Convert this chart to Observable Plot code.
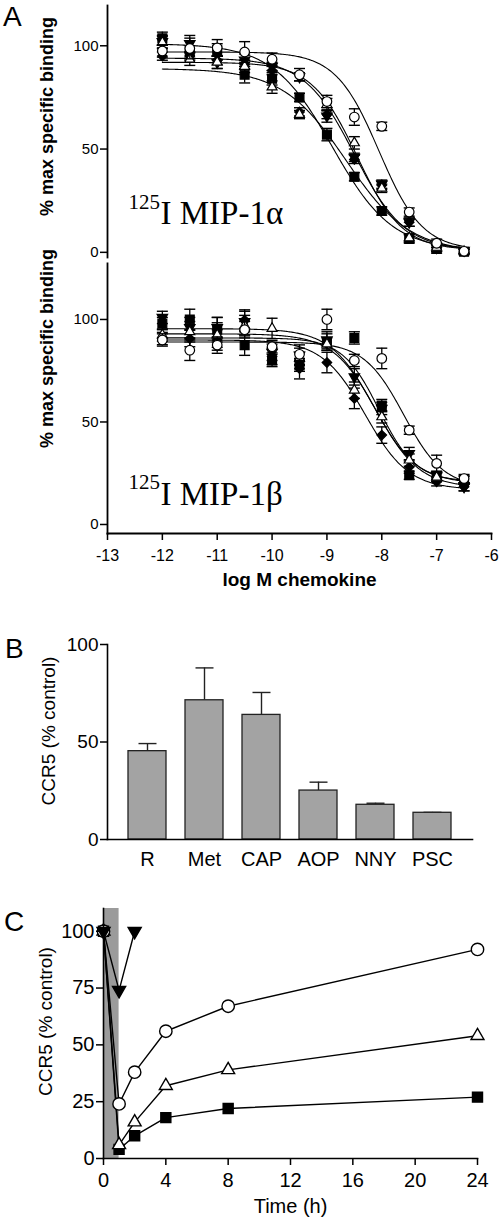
<!DOCTYPE html>
<html><head><meta charset="utf-8">
<script src="https://cdn.jsdelivr.net/npm/d3@7"></script>
<script src="https://cdn.jsdelivr.net/npm/@observablehq/plot@0.6"></script>
<style>
body{margin:0;background:#fff;}
#fig{position:relative;width:500px;height:1225px;font-family:"Liberation Sans",Arial,sans-serif;overflow:hidden;}
.panel{position:absolute;left:0;}
.letter{position:absolute;font-size:28px;line-height:1;color:#000;}
</style></head><body><div id="fig"></div>
<script>
// ---------- Panel A data ----------
const logConc = [-12, -11.5, -11, -10.5, -10, -9.5, -9, -8.5, -8, -7.5, -7, -6.5];
const xTicksA = [-13, -12, -11, -10, -9, -8, -7, -6];
const yTicksA = [0, 50, 100];
const seriesKeys = ["circle", "square", "diamond", "down", "up"];

// 125I MIP-1alpha binding (% max specific)
const alphaCircle  = [97.5, 98.7, 99, 97, 93.5, 86, 73, 65.5, 61, 19.5, 4.4, 0.5];
const alphaSquare  = [103.6, 97, 98, 86, 84, 75, 57, 36.6, 20, 6.5, 1.6, 0.3];
const alphaDiamond = [95, 95, 93, 91, 88, 68, 66.7, 45, 32.5, 14.6, 2.4, 0.5];
const alphaDown    = [102, 101, 92, 93, 90, 85, 66, 46, 33, 14.6, 2.4, 1];
const alphaUp      = [101.6, 93.5, 92, 90, 80, 66.7, 71.5, 53, 31, 7, 2.4, 0.3];
const alphaCircleErr  = [3, 5, 4, 5, 3, 3, 3, 4, 2, 2, 2, 1];
const alphaSquareErr  = [3, 3, 3, 4, 3, 2, 3, 2, 2, 2, 2, 1];
const alphaDiamondErr = [2, 2, 2, 2, 2, 2, 2, 2, 2, 2, 2, 1];
const alphaDownErr    = [3, 4, 3, 3, 2, 2, 3, 2, 2, 2, 2, 1];
const alphaUpErr      = [3, 3, 3, 3, 3, 2, 3, 3, 2, 2, 2, 1];
// fitted one-site competition curves (order = seriesKeys)
const alphaFitTop    = [97, 101, 89, 94, 92];
const alphaFitBottom = [1, 1, 0, 1, 1];
const alphaFitLogIC50 = [-8.05, -8.9, -8.65, -8.5, -8.45];
const alphaFitHill   = [1.1, 0.8, 0.75, 0.95, 1.05];

// 125I MIP-1beta binding
const betaCircle  = [90, 85, 87.5, 95, 86.7, 83, 100, 80, 81, 46, 29.8, 22.4];
const betaSquare  = [98, 100, 95, 87.5, 80, 77.7, 89, 91, 58, 24, 23, 21.6];
const betaDiamond = [90.7, 90.7, 90, 99.7, 82, 76, 79, 61.5, 43.6, 28, 20.8, 18.4];
const betaDown    = [101, 96, 96, 99, 84, 82.6, 90, 72, 56.6, 34.6, 24, 18.4];
const betaUp      = [92.4, 94, 92.4, 97, 95.6, 81, 88, 65.5, 52.5, 31.4, 23, 21.6];
const betaCircleErr  = [3, 5, 4, 4, 3, 3, 5, 3, 5, 2, 4, 2];
const betaSquareErr  = [3, 5, 6, 5, 3, 3, 4, 3, 3, 2, 2, 2];
const betaDiamondErr = [3, 4, 5, 5, 4, 5, 5, 5, 4, 3, 2, 2];
const betaDownErr    = [3, 5, 5, 5, 4, 5, 4, 4, 3, 3, 2, 2];
const betaUpErr      = [3, 5, 6, 5, 5, 3, 3, 4, 3, 3, 2, 2];
const betaFitTop    = [89, 91, 90, 93, 95.5];
const betaFitBottom = [18, 21, 17, 18, 20];
const betaFitLogIC50 = [-7.6, -8.05, -8.3, -8.1, -8.15];
const betaFitHill   = [1.2, 1.3, 1.1, 1.1, 1.1];

const tracerIsotope = "125";
const tracerNames = ["I MIP-1α", "I MIP-1β"];
const labelA_y = "% max specific binding";
const labelA_x = "log M chemokine";

// ---------- Panel B data ----------
const inhibitors = ["R", "Met", "CAP", "AOP", "NNY", "PSC"];
const ccr5Mean = [45.3, 71.4, 63.9, 25.1, 17.8, 13.7];
const ccr5Err  = [3.9, 16.6, 11.5, 4.3, 0.8, 0.2];
const yTicksB = [0, 50, 100];
const labelCCR5 = "CCR5 (% control)";

// ---------- Panel C data ----------
const timeH = [0, 1, 2, 4, 8, 24];
const recCircle   = [100, 24, 38, 56, 67, 92];
const recTriangle = [100, 6, 16, 32, 39, 54];
const recSquare   = [100, 4, 10, 18, 22, 27];
const timeDown = [0, 1, 2];
const recDown  = [100, 74, 100];
const exposureStart = 0, exposureEnd = 1;
const xTicksC = [0, 4, 8, 12, 16, 20, 24];
const yTicksC = [0, 25, 50, 75, 100];
const labelTime = "Time (h)";

// ---------- symbols ----------
const S3 = Math.sqrt(3);
const downTriangle = {draw(ctx, size) {
  const y = -Math.sqrt(size / (S3 * 3));
  ctx.moveTo(0, -2 * y); ctx.lineTo(-S3 * y, y); ctx.lineTo(S3 * y, y); ctx.closePath();
}};
const capSymbol = {draw(ctx, size) {
  const w = Math.sqrt(size / Math.PI);
  ctx.moveTo(-w, 0); ctx.lineTo(w, 0);
}};
const markerA = {
  circle:  {symbol: "circle", fill: "white", r: 4.8},
  square:  {symbol: "square", fill: "black", r: 5.0},
  diamond: {symbol: "diamond2", fill: "black", r: 4.3},
  down:    {symbol: downTriangle, fill: "black", r: 3.9},
  up:      {symbol: "triangle", fill: "white", r: 3.7}
};
const drawOrder = ["diamond", "down", "square", "up", "circle"];

const SANS = "Liberation Sans, Arial, Helvetica, sans-serif";
const SERIF = "Liberation Serif, Times New Roman, serif";
const fig = document.getElementById("fig");
function place(svg, top) {
  const d = document.createElement("div");
  d.className = "panel"; d.style.top = top + "px";
  d.appendChild(svg); fig.appendChild(d);
}
function letter(t, left, top) {
  const d = document.createElement("div");
  d.className = "letter"; d.textContent = t;
  d.style.left = left + "px"; d.style.top = top + "px";
  fig.appendChild(d);
}
const svgStyle = {fontFamily: SANS, background: "transparent", overflow: "visible", color: "black"};

function panelA(series, errs, fit, opts) {
  const grid = d3.range(logConc[0], logConc[logConc.length - 1] + 1e-9, 0.02);
  const marks = [];
  seriesKeys.forEach((k, i) => {
    const curve = grid.map(x => ({x, y: fit.bottom[i] + (fit.top[i] - fit.bottom[i]) / (1 + Math.pow(10, (x - fit.ic[i]) * fit.hill[i]))}));
    marks.push(Plot.line(curve, {x: "x", y: "y", stroke: "black", strokeWidth: 1.1}));
  });
  drawOrder.forEach(k => {
    const i = seriesKeys.indexOf(k);
    const rows = logConc.map((x, j) => ({x, v: series[i][j], e: errs[i][j]}));
    marks.push(Plot.ruleX(rows, {x: "x", y1: d => d.v - d.e, y2: d => d.v + d.e, stroke: "black", strokeWidth: 1.3}));
    marks.push(Plot.dot(rows, {x: "x", y: d => d.v + d.e, symbol: capSymbol, r: 5.5, stroke: "black", strokeWidth: 1.4}));
    marks.push(Plot.dot(rows, {x: "x", y: d => d.v - d.e, symbol: capSymbol, r: 5.5, stroke: "black", strokeWidth: 1.4}));
    const m = markerA[k];
    marks.push(Plot.dot(rows, {x: "x", y: "v", symbol: m.symbol, r: m.r, fill: m.fill, stroke: "black", strokeWidth: 1.2}));
  });
  marks.push(Plot.axisY({ticks: yTicksA, tickSize: 7, tickPadding: 2, fontSize: 15, strokeWidth: 1.5, label: null}));
  marks.push(Plot.frame({anchor: "left", strokeWidth: 1.8}));
  marks.push(Plot.text([labelA_y], {text: d => d, frameAnchor: "left", textAnchor: "middle", rotate: -90, dx: -60, dy: opts.labelDy, fontSize: 18, fontWeight: "bold"}));
  marks.push(Plot.text([tracerIsotope], {text: d => d, frameAnchor: "top-left", dx: 21, dy: opts.supDy, textAnchor: "start", fontFamily: SERIF, fontSize: 21}));
  marks.push(Plot.text([opts.name], {text: d => d, frameAnchor: "top-left", dx: 53, dy: opts.nameDy, textAnchor: "start", fontFamily: SERIF, fontSize: 33}));
  if (opts.xAxis) {
    marks.push(Plot.frame({anchor: "bottom", strokeWidth: 1.8}));
    marks.push(Plot.axisX({ticks: xTicksA, tickSize: 7, tickPadding: 9, fontSize: 16, strokeWidth: 1.5, tickFormat: d => String(d), label: null}));
    marks.push(Plot.text([labelA_x], {text: d => d, frameAnchor: "bottom", dy: 52, fontSize: 19, fontWeight: "bold"}));
  }
  return Plot.plot({
    width: 500, height: opts.height,
    marginLeft: 107, marginRight: 9, marginTop: opts.mt, marginBottom: opts.mb,
    style: svgStyle,
    x: {domain: [-13, -6], axis: opts.xAxis ? undefined : null},
    y: {domain: opts.ydomain},
    marks
  });
}

const topA = panelA(
  [alphaCircle, alphaSquare, alphaDiamond, alphaDown, alphaUp],
  [alphaCircleErr, alphaSquareErr, alphaDiamondErr, alphaDownErr, alphaUpErr],
  {top: alphaFitTop, bottom: alphaFitBottom, ic: alphaFitLogIC50, hill: alphaFitHill},
  {height: 262, mt: 5, mb: 5, ydomain: [-2.5, 119.5], labelDy: -15, supDy: 189, nameDy: 195, name: tracerNames[0], xAxis: false});
place(topA, 0);

const botA = panelA(
  [betaCircle, betaSquare, betaDiamond, betaDown, betaUp],
  [betaCircleErr, betaSquareErr, betaDiamondErr, betaDownErr, betaUpErr],
  {top: betaFitTop, bottom: betaFitBottom, ic: betaFitLogIC50, hill: betaFitHill},
  {height: 338, mt: 1, mb: 67, ydomain: [-4.4, 127.3], labelDy: -50, supDy: 211, nameDy: 218, name: tracerNames[1], xAxis: true});
place(botA, 262);

// ---------- Panel B ----------
const bTable = inhibitors.map((name, i) => ({name, value: ccr5Mean[i], err: ccr5Err[i]}));
const plotB = Plot.plot({
  width: 500, height: 280, marginLeft: 107, marginRight: 28, marginTop: 44, marginBottom: 41,
  style: svgStyle,
  x: {domain: inhibitors, paddingInner: 0.34, paddingOuter: 0.17, insetLeft: 10, insetRight: 11},
  y: {domain: [0, 100]},
  marks: [
    Plot.ruleX(bTable, {x: "name", y1: "value", y2: d => d.value + d.err, stroke: "#222", strokeWidth: 1.4}),
    Plot.dot(bTable, {x: "name", y: d => d.value + d.err, symbol: capSymbol, r: 9, stroke: "#222", strokeWidth: 1.4}),
    Plot.barY(bTable, {x: "name", y: "value", fill: "#a3a3a3", stroke: "#222", strokeWidth: 1.3}),
    Plot.axisY({ticks: yTicksB, tickSize: 7, tickPadding: 2, fontSize: 19, strokeWidth: 1.5, label: null}),
    Plot.axisX({tickSize: 0, tickPadding: 12, fontSize: 20, label: null}),
    Plot.frame({anchor: "left", strokeWidth: 1.6}),
    Plot.frame({anchor: "bottom", strokeWidth: 1.6}),
    Plot.text([labelCCR5], {text: d => d, frameAnchor: "left", textAnchor: "middle", rotate: -90, dx: -59, dy: -11, fontSize: 19})
  ]
});
place(plotB, 600);

// ---------- Panel C ----------
const rows = (t, v) => t.map((x, i) => ({t: x, v: v[i]}));
const cCircle = rows(timeH, recCircle), cTri = rows(timeH, recTriangle), cSq = rows(timeH, recSquare), cDown = rows(timeDown, recDown);
const plotC = Plot.plot({
  width: 500, height: 345, marginLeft: 103, marginRight: 23, marginTop: 28, marginBottom: 67,
  style: svgStyle,
  x: {domain: [0, 24]},
  y: {domain: [0, 110]},
  marks: [
    Plot.rect([{x1: exposureStart, x2: exposureEnd}], {x1: "x1", x2: "x2", fill: "#9b9b9b"}),
    Plot.line(cCircle, {x: "t", y: "v", stroke: "black", strokeWidth: 1.4}),
    Plot.line(cTri, {x: "t", y: "v", stroke: "black", strokeWidth: 1.4}),
    Plot.line(cSq, {x: "t", y: "v", stroke: "black", strokeWidth: 1.4}),
    Plot.line(cDown, {x: "t", y: "v", stroke: "black", strokeWidth: 1.4}),
    Plot.dot(cSq, {x: "t", y: "v", symbol: "square", r: 5.6, fill: "black", stroke: "black"}),
    Plot.dot(cTri, {x: "t", y: "v", symbol: "triangle", r: 4.8, fill: "white", stroke: "black", strokeWidth: 1.4}),
    Plot.dot(cCircle, {x: "t", y: "v", symbol: "circle", r: 6.2, fill: "white", stroke: "black", strokeWidth: 1.4}),
    Plot.dot(cDown, {x: "t", y: "v", symbol: downTriangle, r: 4.8, fill: "black", stroke: "black"}),
    Plot.axisX({ticks: xTicksC, tickSize: 7, tickPadding: 7, fontSize: 20, strokeWidth: 1.5, label: null}),
    Plot.axisY({ticks: yTicksC, tickSize: 7, tickPadding: 2, fontSize: 20, strokeWidth: 1.5, label: null}),
    Plot.frame({anchor: "left", strokeWidth: 1.6}),
    Plot.frame({anchor: "bottom", strokeWidth: 1.6}),
    Plot.text([labelCCR5], {text: d => d, frameAnchor: "left", textAnchor: "middle", rotate: -90, dx: -58, dy: -12, fontSize: 19}),
    Plot.text([labelTime], {text: d => d, frameAnchor: "bottom", dy: 54, fontSize: 20})
  ]
});
place(plotC, 880);

letter("A", 3, 3);
letter("B", 5, 635);
letter("C", 4, 908);
</script></body></html>
